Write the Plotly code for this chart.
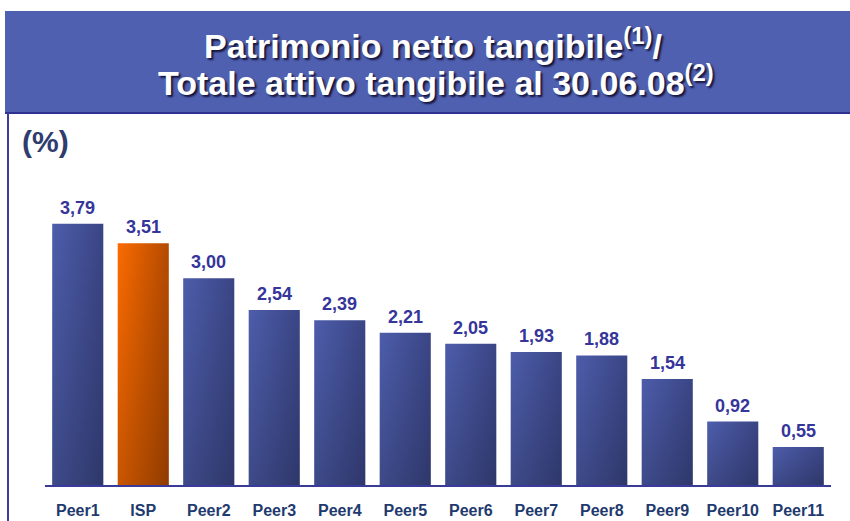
import plotly.graph_objects as go

categories = ["Peer1", "ISP", "Peer2", "Peer3", "Peer4", "Peer5", "Peer6",
              "Peer7", "Peer8", "Peer9", "Peer10", "Peer11"]
values = [3.79, 3.51, 3.00, 2.54, 2.39, 2.21, 2.05, 1.93, 1.88, 1.54, 0.92, 0.55]
highlight = "ISP"
title_line1 = "Patrimonio netto tangibile<sup>(1)</sup>/"
title_line2 = "Totale attivo tangibile al 30.06.08<sup>(2)</sup>"
unit_label = "(%)"

W, H = 850, 521
PL, PR, PT, PB = 45, 831, 209, 485  # plot area in pixels
px_per_unit = 68.9
ymax = (PB - PT) / px_per_unit


def px(xp):
    return (xp - PL) / (PR - PL)


def py(yp):
    return (PB - yp) / (PB - PT)


fig = go.Figure()
half = 0.39
for i, (c, v) in enumerate(zip(categories, values)):
    if c == highlight:
        cs = [[0, "#fb6b00"], [1, "#b44a00"]]
    else:
        cs = [[0, "#4d5dab"], [1, "#3a4585"]]
    xs = [i - half, i + half, i + half, i - half, i - half]
    ys = [0, 0, v, v, 0]
    fig.add_trace(go.Scatter(x=xs, y=ys, mode="lines", fill="toself",
                             line=dict(width=0), hoverinfo="skip",
                             fillgradient=dict(type="horizontal", colorscale=cs),
                             showlegend=False))
    fig.add_trace(go.Scatter(x=xs, y=ys, mode="lines", fill="toself",
                             line=dict(width=0), hoverinfo="skip",
                             fillgradient=dict(type="vertical",
                                               colorscale=[[0, "rgba(0,0,0,0.2)"],
                                                           [1, "rgba(0,0,0,0)"]]),
                             showlegend=False))
    fig.add_annotation(x=i, y=v, text=f"{v:.2f}".replace(".", ","),
                       showarrow=False, yanchor="bottom", yshift=4,
                       font=dict(family="Liberation Sans, Arial", size=18,
                                 color="#35359a", weight="bold"))

fig.update_xaxes(range=[-0.5, len(categories) - 0.5], tickmode="array",
                 tickvals=list(range(len(categories))), ticktext=categories,
                 showgrid=False, zeroline=False, showline=True,
                 linecolor="#3a3a9a", linewidth=1.5, ticks="",
                 ticklabelstandoff=10, automargin=False,
                 tickfont=dict(family="Liberation Sans, Arial", size=16,
                               color="#1f3a6e", weight="bold"))
fig.update_yaxes(range=[0, ymax], visible=False, showgrid=False, zeroline=False,
                 automargin=False)

shapes = [
    dict(type="rect", xref="paper", yref="paper", x0=px(5), x1=px(852),
         y0=py(113), y1=py(11), fillcolor="#5060b0", line=dict(width=0), layer="below"),
    dict(type="line", xref="paper", yref="paper", x0=px(5), x1=px(852),
         y0=py(113), y1=py(113), line=dict(color="#2e3192", width=2)),
    dict(type="line", xref="paper", yref="paper", x0=px(8), x1=px(8),
         y0=py(113), y1=py(523), line=dict(color="#3d3d9e", width=2)),
]

title_font = dict(family="Liberation Sans, Arial", size=34, color="white",
                  weight="bold", shadow="2px 2px 2px #14143a")
fig.add_annotation(xref="paper", yref="paper", x=px(433), y=py(43),
                   text=title_line1, showarrow=False, xanchor="center",
                   yanchor="middle", font=title_font)
fig.add_annotation(xref="paper", yref="paper", x=px(436), y=py(81),
                   text=title_line2, showarrow=False, xanchor="center",
                   yanchor="middle", font=title_font)
fig.add_annotation(xref="paper", yref="paper", x=px(20), y=py(141),
                   text=unit_label, showarrow=False, xanchor="left", yanchor="middle",
                   font=dict(family="Liberation Sans, Arial", size=30,
                             color="#2f3d6e", weight="bold"))

fig.update_layout(width=W, height=H, margin=dict(l=PL, r=W - PR, t=PT, b=H - PB),
                  plot_bgcolor="white", paper_bgcolor="white", shapes=shapes,
                  showlegend=False)

fig.write_html("out.html", config={"displayModeBar": False},
               post_script="document.body.style.margin='0';")
